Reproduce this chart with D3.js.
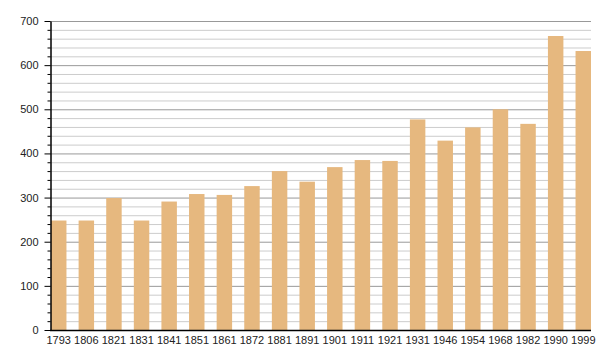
<!DOCTYPE html>
<html><head><meta charset="utf-8">
<script src="https://cdn.jsdelivr.net/npm/d3@7"></script>
<style>body{margin:0;background:#fff}svg{display:block}</style>
</head><body>
<svg id="chart" width="600" height="360"></svg>
<script>
const years = ["1793","1806","1821","1831","1841","1851","1861","1872","1881","1891","1901","1911","1921","1931","1946","1954","1968","1982","1990","1999"];
const population = [248,248,299,248,291,308,306,326,360,336,369,385,383,477,429,459,500,467,666,632];
const yTicks = [0,100,200,300,400,500,600,700];

(function () {
const svg = d3.select("#chart");
const mLeft = 50, mRight = 591, mTop = 21, mBottom = 330;
const x = d3.scaleBand().domain(years).range([mLeft + 1, mRight]).paddingInner(0.44).paddingOuter(0);
const y = d3.scaleLinear().domain([0, 700]).range([mBottom, mTop]);

const minor = d3.range(0, 701, 20).filter(v => v % 100 !== 0);
svg.append("g").selectAll("line").data(minor).join("line")
  .attr("x1", mLeft).attr("x2", mRight).attr("y1", d => y(d) + 0.5).attr("y2", d => y(d) + 0.5)
  .attr("stroke", "#cccccc").attr("stroke-width", 1);
svg.append("g").selectAll("line").data(yTicks.filter(v => v > 0)).join("line")
  .attr("x1", mLeft).attr("x2", mRight).attr("y1", d => y(d) + 0.5).attr("y2", d => y(d) + 0.5)
  .attr("stroke", "#999999").attr("stroke-width", 1);

svg.append("g").selectAll("rect").data(population).join("rect")
  .attr("x", (d, i) => x(years[i])).attr("width", x.bandwidth())
  .attr("y", d => y(d)).attr("height", d => y(0) - y(d))
  .attr("fill", "#E6B87F");

const yAxis = d3.axisLeft(y).tickValues(yTicks).tickSize(6).tickPadding(6).tickSizeOuter(0);
const gy = svg.append("g").attr("transform", `translate(${mLeft + 0.5},0)`).call(yAxis);
gy.selectAll(".tick line").attr("stroke", "#000");
gy.select(".domain").attr("stroke", "#000").attr("stroke-width", 1.5);
gy.selectAll("text").attr("font-family", "'Liberation Sans', Arial, sans-serif").attr("font-size", 11).attr("fill", "#222");
const gyMinor = svg.append("g").attr("transform", `translate(${mLeft + 0.5},0)`)
  .call(d3.axisLeft(y).tickValues(minor).tickSize(3).tickFormat(""));
gyMinor.select(".domain").remove();
gyMinor.selectAll(".tick line").attr("stroke", "#000");

const xAxis = d3.axisBottom(x).tickSize(0).tickPadding(6).tickSizeOuter(0);
const gx = svg.append("g").attr("transform", `translate(0,${mBottom + 0.5})`).call(xAxis);
gx.select(".domain").attr("stroke", "#000").attr("stroke-width", 1.5).attr("d", `M${mLeft},0H${mRight}`);
gx.selectAll("text").attr("font-family", "'Liberation Sans', Arial, sans-serif").attr("font-size", 11).attr("fill", "#222");
})();
</script>
</body></html>
